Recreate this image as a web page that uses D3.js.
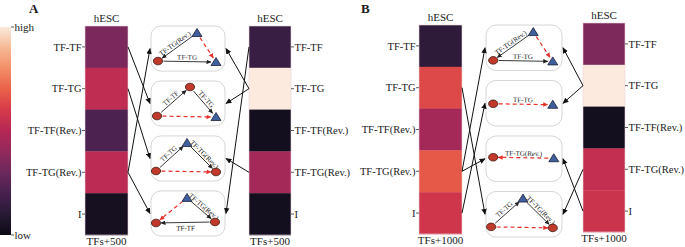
<!DOCTYPE html>
<html>
<head>
<meta charset="utf-8">
<script src="https://cdn.jsdelivr.net/npm/d3@7"></script>
<style>
  body { margin: 0; background: #fff; }
  svg { display: block; }
  text { font-family: "Liberation Serif", "Times New Roman", serif; fill: #1a1a1a; }
</style>
</head>
<body>
<div id="chart"></div>
<script>
// heatmap rows (motif categories)
const rows = ['TF-TF', 'TF-TG', 'TF-TF(Rev.)', 'TF-TG(Rev.)', 'I']
const colTitle = 'hESC'
// normalised scores, 0 = low, 1 = high
const aLeftValues = [0.34, 0.53, 0.21, 0.52, 0.04]
const aRightValues = [0.15, 1.0, 0.03, 0.45, 0.03]
const bLeftValues = [0.12, 0.64, 0.45, 0.68, 0.58]
const bRightValues = [0.35, 1.0, 0.03, 0.54, 0.57]
const footA = 'TFs+500'
const footB = 'TFs+1000'
// connector arrows: [row index, motif box index]
const aLeftLinks = [[0, 1], [1, 2], [3, 0], [3, 3]]
const aRightLinks = [[1, 0], [1, 1], [3, 2], [0, 3]]
const bLeftLinks = [[3, 0], [4, 1], [3, 2], [1, 3]]
const bRightLinks = [[1, 0], [1, 1], [4, 2], [3, 3]]
// motif drawn in each box, top to bottom
const aMotifs = ['tgFork', 'tfChain', 'tgChain', 'tfBack']
const bMotifs = ['tgFork', 'tgDirect', 'tgReverse', 'tgChain']

// motif diagrams: nodes in a 74x45 box, edges [from, to, label, dashed, labelBelow]
const motifLayouts = {
  tgFork: {
    nodes: [['tri', 46, 7], ['cir', 7, 35], ['tri', 65, 36]],
    edges: [[0, 1, 'TF-TG(Rev.)', false], [1, 2, 'TF-TG', false], [0, 2, '', true]]
  },
  tfChain: {
    nodes: [['cir', 6, 35], ['cir', 39, 6], ['tri', 65, 36]],
    edges: [[0, 1, 'TF-TF', false], [1, 2, 'TF-TG', false], [0, 2, '', true]]
  },
  tgChain: {
    nodes: [['cir', 5, 35], ['tri', 36, 7], ['cir', 65, 36]],
    edges: [[0, 1, 'TF-TG', false], [1, 2, 'TF-TG(Rev.)', false], [0, 2, '', true]]
  },
  tfBack: {
    nodes: [['tri', 36, 7], ['cir', 5, 32], ['cir', 64, 31]],
    edges: [[0, 2, 'TF-TG(Rev.)', false], [2, 1, 'TF-TF', false, true], [0, 1, '', true]]
  },
  tgDirect: {
    nodes: [['cir', 7, 23], ['tri', 65, 24]],
    edges: [[0, 1, 'TF-TG', true]]
  },
  tgReverse: {
    nodes: [['cir', 7, 21], ['tri', 66, 22]],
    edges: [[1, 0, 'TF-TG(Rev.)', true]]
  }
}

const W = 685, H = 247
const svg = d3.select('#chart').append('svg')
  .attr('width', W)
  .attr('height', H)

// rocket-like colour map (a little muted, as printed)
const rocketStops = ['#0c0a14', '#281a35', '#48214f', '#6b285c', '#922a5c', '#b52755',
  '#d53a4a', '#ea6048', '#f28e68', '#f6b894', '#fbeadd']
const color = d3.scaleLinear()
  .domain(d3.range(rocketStops.length).map(i => i / (rocketStops.length - 1)))
  .range(rocketStops)
  .interpolate(d3.interpolateRgb)

const defs = svg.append('defs')
const grad = defs.append('linearGradient')
  .attr('id', 'cbar')
  .attr('x1', 0).attr('y1', 1).attr('x2', 0).attr('y2', 0)
grad.selectAll('stop').data(rocketStops)
  .enter().append('stop')
  .attr('offset', (d, i) => i / (rocketStops.length - 1))
  .attr('stop-color', d => d)

function marker(id, fill, size) {
  defs.append('marker')
    .attr('id', id)
    .attr('viewBox', '0 0 10 10')
    .attr('refX', 9).attr('refY', 5)
    .attr('markerWidth', size).attr('markerHeight', size)
    .attr('markerUnits', 'userSpaceOnUse')
    .attr('orient', 'auto')
    .append('path')
    .attr('d', 'M0,0.5 L10,5 L0,9.5 z')
    .attr('fill', fill)
}
marker('arrowBlack', '#111', 6)
marker('arrowSmall', '#222', 5)
marker('arrowRed', '#e8302a', 5)

// colour bar
const cbar = {x: 0, w: 11, y0: 27, y1: 235}
svg.append('rect')
  .attr('x', cbar.x).attr('y', cbar.y0)
  .attr('width', cbar.w).attr('height', cbar.y1 - cbar.y0)
  .attr('fill', 'url(#cbar)')
const cbarScale = d3.scaleLinear().domain([0, 1]).range([cbar.y1, cbar.y0])
const cbarTicks = [[1, 'high'], [0, 'low']]
cbarTicks.forEach(([v, t]) => {
  svg.append('line')
    .attr('x1', cbar.w).attr('x2', cbar.w + 3)
    .attr('y1', cbarScale(v)).attr('y2', cbarScale(v))
    .attr('stroke', '#333').attr('stroke-width', 0.8)
  svg.append('text')
    .attr('x', cbar.w + 3.5).attr('y', cbarScale(v))
    .attr('dy', '0.35em')
    .style('font-size', '11px')
    .text(t)
})

function drawHeat(h) {
  const g = svg.append('g')
  const y = d3.scaleBand().domain(rows).range([h.y0, h.y1])
  g.selectAll('rect').data(rows)
    .enter().append('rect')
    .attr('x', h.x0).attr('y', d => y(d))
    .attr('width', h.x1 - h.x0).attr('height', y.bandwidth() + 0.3)
    .attr('fill', (d, i) => color(h.values[i]))
  g.append('rect')
    .attr('x', h.x0).attr('y', h.y0)
    .attr('width', h.x1 - h.x0).attr('height', h.y1 - h.y0)
    .attr('fill', 'none').attr('stroke', '#ead3dc').attr('stroke-width', 0.6)
  const left = h.side === 'left'
  const tx = left ? h.x0 : h.x1
  const sign = left ? -1 : 1
  rows.forEach(r => {
    const cy = y(r) + y.bandwidth() / 2
    g.append('line')
      .attr('x1', tx).attr('x2', tx + sign * 3)
      .attr('y1', cy).attr('y2', cy)
      .attr('stroke', '#333').attr('stroke-width', 0.8)
    g.append('text')
      .attr('x', tx + sign * 3.5).attr('y', cy)
      .attr('dy', '0.35em')
      .attr('text-anchor', left ? 'end' : 'start')
      .style('font-size', '10.5px')
      .text(r)
  })
  g.append('text')
    .attr('x', (h.x0 + h.x1) / 2).attr('y', h.y0 - 4)
    .attr('text-anchor', 'middle')
    .style('font-size', '11px')
    .text(colTitle)
  g.append('text')
    .attr('x', (h.x0 + h.x1) / 2).attr('y', h.y1 + 10)
    .attr('text-anchor', 'middle')
    .style('font-size', '11px')
    .text(h.foot)
  return y
}

function drawNode(g, type, x, y) {
  if (type === 'cir') {
    g.append('ellipse')
      .attr('cx', x).attr('cy', y).attr('rx', 4.6).attr('ry', 3.8)
      .attr('fill', '#c0392b').attr('stroke', '#3a1a12').attr('stroke-width', 0.8)
  } else {
    g.append('path')
      .attr('d', `M${x},${y - 4.5} L${x + 5},${y + 3.5} L${x - 5},${y + 3.5} z`)
      .attr('fill', '#3f5f9f').attr('stroke', '#1c2030').attr('stroke-width', 0.8)
  }
}

function drawMotif(name, bx, by, bw, bh) {
  const g = svg.append('g').attr('transform', `translate(${bx},${by})`)
  g.append('rect')
    .attr('x', 0).attr('y', 0).attr('width', bw).attr('height', bh)
    .attr('rx', 10).attr('ry', 10)
    .attr('fill', '#fff').attr('stroke', '#d6d6d6').attr('stroke-width', 1)
  const sx = d3.scaleLinear().domain([0, 74]).range([0, bw])
  const sy = d3.scaleLinear().domain([0, 45]).range([0, bh])
  const lay = motifLayouts[name]
  const pts = lay.nodes.map(n => [sx(n[1]), sy(n[2])])
  lay.edges.forEach(([a, b, label, dashed, below]) => {
    const [x1, y1] = pts[a], [x2, y2] = pts[b]
    const dx = x2 - x1, dy = y2 - y1, len = Math.hypot(dx, dy)
    const ux = dx / len, uy = dy / len
    const s0 = 5.5, s1 = 5
    g.append('line')
      .attr('x1', x1 + ux * s0).attr('y1', y1 + uy * s0)
      .attr('x2', x2 - ux * s1).attr('y2', y2 - uy * s1)
      .attr('stroke', dashed ? '#e8302a' : '#222')
      .attr('stroke-width', dashed ? 1.2 : 0.9)
      .attr('stroke-dasharray', dashed ? '4,3' : null)
      .attr('marker-end', dashed ? 'url(#arrowRed)' : 'url(#arrowSmall)')
    if (label) {
      let ang = Math.atan2(dy, dx) * 180 / Math.PI
      if (ang > 90) ang -= 180
      if (ang < -90) ang += 180
      const mx = (x1 + x2) / 2, my = (y1 + y2) / 2
      g.append('text')
        .attr('transform', `translate(${mx},${my}) rotate(${ang})`)
        .attr('x', 0).attr('y', below ? 8 : -2)
        .attr('text-anchor', 'middle')
        .style('font-size', '7px')
        .text(label)
    }
  })
  lay.nodes.forEach((n, i) => drawNode(g, n[0], pts[i][0], pts[i][1]))
}

function drawPanel(p) {
  svg.append('text')
    .attr('x', p.letterX).attr('y', 13)
    .style('font-size', '13px').style('font-weight', 'bold')
    .text(p.letter)
  const yl = drawHeat(p.left)
  const yr = drawHeat(p.right)
  const boxY = d3.scaleBand()
    .domain(d3.range(p.motifs.length))
    .range([p.box.y0, p.box.y1])
    .paddingInner(0.18)
  const linkG = svg.append('g')
  const boxCy = i => boxY(i) + boxY.bandwidth() / 2
  p.leftLinks.forEach(([r, m]) => {
    linkG.append('line')
      .attr('x1', p.left.x1).attr('y1', yl(rows[r]) + yl.bandwidth() / 2)
      .attr('x2', p.box.x0 - 1).attr('y2', boxCy(m))
      .attr('stroke', '#111').attr('stroke-width', 1)
      .attr('marker-end', 'url(#arrowBlack)')
  })
  p.rightLinks.forEach(([r, m]) => {
    linkG.append('line')
      .attr('x1', p.right.x0).attr('y1', yr(rows[r]) + yr.bandwidth() / 2)
      .attr('x2', p.box.x1 + 1).attr('y2', boxCy(m))
      .attr('stroke', '#111').attr('stroke-width', 1)
      .attr('marker-end', 'url(#arrowBlack)')
  })
  p.motifs.forEach((m, i) => {
    drawMotif(m, p.box.x0, boxY(i), p.box.x1 - p.box.x0, boxY.bandwidth())
  })
  linkG.raise()
}

drawPanel({
  letter: 'A', letterX: 29,
  left: {x0: 85, x1: 128, y0: 26, y1: 235, values: aLeftValues, foot: footA, side: 'left'},
  right: {x0: 249, x1: 291, y0: 26, y1: 235, values: aRightValues, foot: footA, side: 'right'},
  box: {x0: 151, x1: 225, y0: 26, y1: 236},
  motifs: aMotifs, leftLinks: aLeftLinks, rightLinks: aRightLinks
})
drawPanel({
  letter: 'B', letterX: 361,
  left: {x0: 419, x1: 462, y0: 25, y1: 234, values: bLeftValues, foot: footB, side: 'left'},
  right: {x0: 583, x1: 625, y0: 23, y1: 232, values: bRightValues, foot: footB, side: 'right'},
  box: {x0: 486, x1: 562, y0: 25, y1: 237},
  motifs: bMotifs, leftLinks: bLeftLinks, rightLinks: bRightLinks
})
</script>
</body>
</html>
